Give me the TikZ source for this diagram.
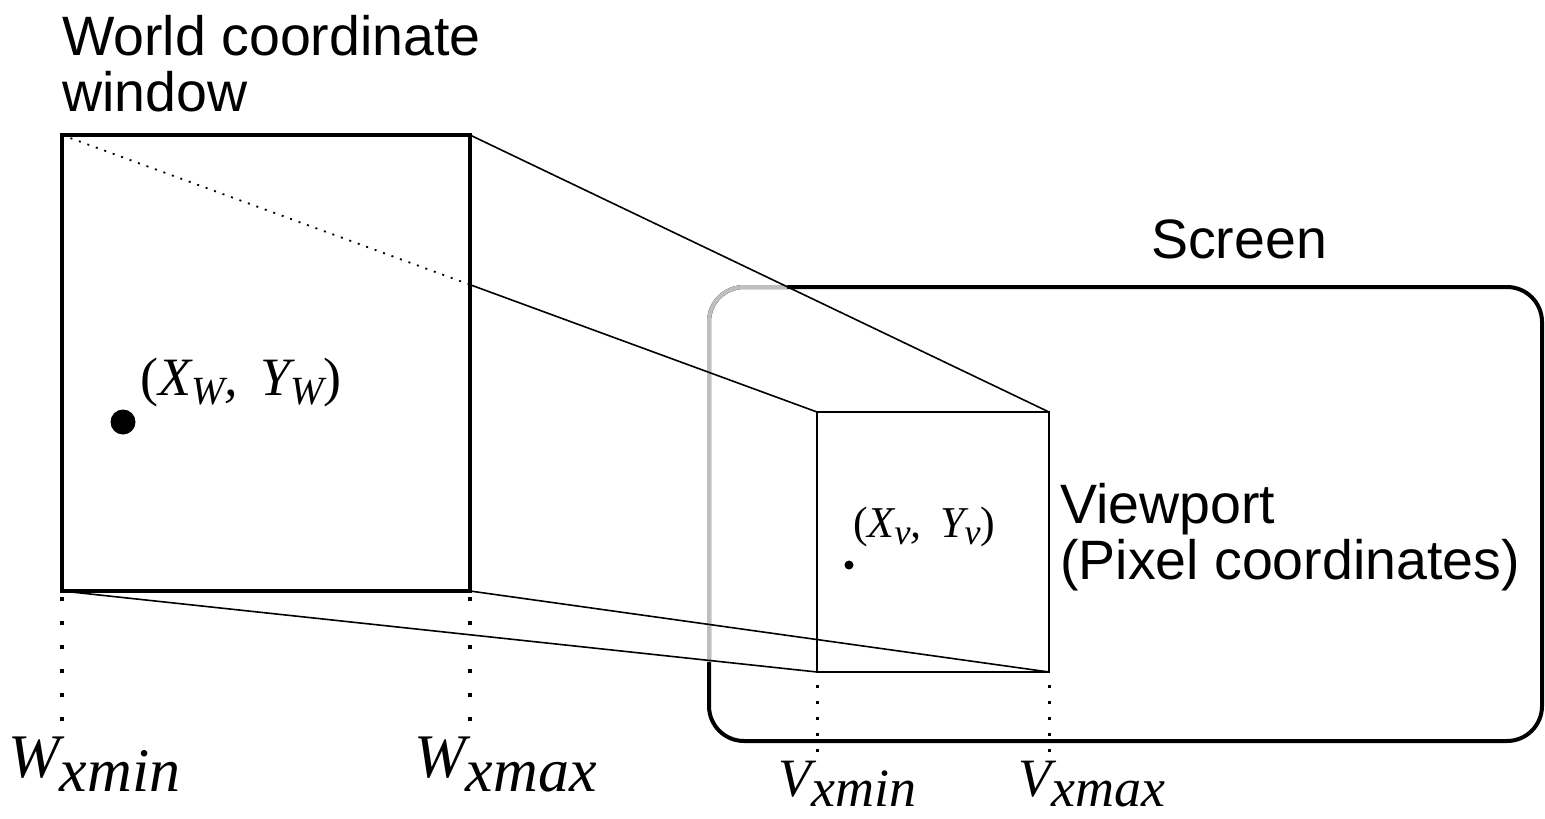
\documentclass[tikz,border=0pt]{standalone}
\usepackage{fontspec}
\setmainfont{Liberation Sans}
\newfontfamily\timesf{Liberation Serif}
\usetikzlibrary{calc}
\newcommand{\lowsub}[2]{\raisebox{-#1}{#2}}
\tikzset{
  wbox/.style={draw,line width=4pt,outer sep=0pt,inner sep=0pt},
  vbox/.style={draw,line width=2.5pt,outer sep=0pt,inner sep=0pt},
  sbox/.style={draw,line width=4pt,rounded corners=35pt,outer sep=0pt,inner sep=0pt},
  proj/.style={line width=1.6pt},
  projdot/.style={line width=1.8pt,dash pattern=on 2pt off 7pt},
  wtick/.style={line width=4pt,dash pattern=on 4pt off 20pt},
  vtick/.style={line width=3pt,dash pattern=on 3pt off 13pt},
  lbl/.style={font=\fontsize{55.5}{56}\selectfont,inner sep=0pt,align=left},
  mlbl/.style={font=\timesf\itshape\fontsize{62}{62}\selectfont,inner sep=0pt,anchor=base west},
  slbl/.style={font=\timesf\itshape\fontsize{54}{54}\selectfont,inner sep=0pt,anchor=base west},
  pt/.style={circle,fill,inner sep=0pt},
}
\begin{document}
\begin{tikzpicture}[x=1pt,y=-1pt]
  \useasboundingbox (0,0) rectangle (1545,819);
  % screen, with the hidden corner in gray
  \node[sbox,minimum width=833pt,minimum height=454pt] (scr) at (1125.5,514) {};
  \draw[line width=4pt,gray!50,rounded corners=35pt] ([xshift=78pt]scr.north west) -- (scr.north west) -- ([yshift=-375pt]scr.north west);
  \node[lbl,anchor=base] (scrtxt) at (1239,258) {Screen};
  % world window and viewport
  \node[wbox,minimum width=408pt,minimum height=456pt] (win) at (266,363) {};
  \node[vbox,minimum width=232pt,minimum height=260pt] (vp) at (933,542) {};
  \node[lbl,anchor=north west] (wintxt) at (62,15) {World coordinate\\window};
  \node[lbl,anchor=north west] (vptxt) at (1060,483) {Viewport\\(Pixel coordinates)};
  % projection lines
  \coordinate (cut) at (intersection of win.north west--vp.north west and win.north east--win.south east);
  \draw[projdot] (win.north west) -- (cut);
  \draw[proj] (cut) -- (vp.north west);
  \draw[proj] (win.north east) -- (vp.north east);
  \draw[proj] (win.south west) -- (vp.south west);
  \draw[proj] (win.south east) -- (vp.south east);
  % points
  \node[pt,minimum size=25pt] (pw) at (123,422) {};
  \node[slbl] (pwtxt) at (140,395) {{\upshape(}X\lowsub{9pt}{\fontsize{40}{40}\selectfont W}, \,Y\lowsub{9pt}{\fontsize{40}{40}\selectfont W}{\upshape)}};
  \node[pt,minimum size=9pt] (pv) at (849,565) {};
  \node[slbl,font=\timesf\itshape\fontsize{44}{44}\selectfont] (pvtxt) at (853,537) {{\upshape(}X\lowsub{7pt}{\fontsize{36}{36}\selectfont v}, \,Y\lowsub{7pt}{\fontsize{36}{36}\selectfont v}{\upshape)}};
  % x limits
  \coordinate (wminend) at (62,722);
  \coordinate (wmaxend) at (470,722);
  \coordinate (vminend) at (817,752);
  \coordinate (vmaxend) at (1049,752);
  \draw[wtick] ([yshift=-6pt]win.south west) -- (wminend);
  \draw[wtick] ([yshift=-6pt]win.south east) -- (wmaxend);
  \draw[vtick] ([yshift=-13pt]vp.south west) -- (vminend);
  \draw[vtick] ([yshift=-13pt]vp.south east) -- (vmaxend);
  \node[mlbl] (wmin) at (8,777) {W\lowsub{14pt}{xmin}};
  \node[mlbl] (wmax) at (414,777) {W\lowsub{14pt}{xmax}};
  \node[mlbl,font=\timesf\itshape\fontsize{54}{54}\selectfont] (vmin) at (778,796) {V\lowsub{10pt}{xmin}};
  \node[mlbl,font=\timesf\itshape\fontsize{54}{54}\selectfont] (vmax) at (1018,796) {V\lowsub{10pt}{xmax}};
\end{tikzpicture}
\end{document}
